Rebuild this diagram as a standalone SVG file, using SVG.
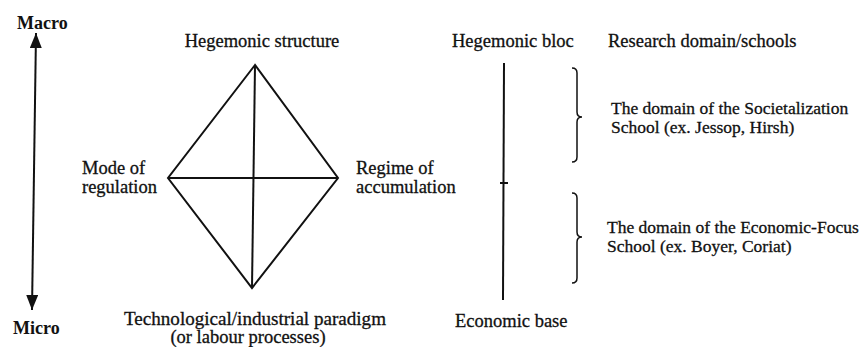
<svg xmlns="http://www.w3.org/2000/svg" width="865" height="347" viewBox="0 0 865 347">
<defs>
<marker id="ah" viewBox="0 0 15 12" refX="15" refY="6" markerWidth="15" markerHeight="12" markerUnits="userSpaceOnUse" orient="auto-start-reverse">
<path d="M0,0 L15,6 L0,12 Z" fill="#111"/>
</marker>
</defs>
<style>
text{font-family:"Liberation Serif","Times New Roman",serif;font-size:18.5px;fill:#111;stroke:#111;stroke-width:0.3}
.b{font-weight:bold;stroke-width:0;font-size:18px}
.r{font-size:17.5px}
.ln{stroke:#111;stroke-width:2;fill:none}
.br{stroke:#111;stroke-width:1.5;fill:none}
</style>
<rect width="865" height="347" fill="#fff"/>
<g id="connectors">
<line class="ln" x1="36" y1="33" x2="32" y2="310" marker-start="url(#ah)" marker-end="url(#ah)"/>
<path class="ln" d="M255,65 L168,178 L252,288 L338,178 Z"/>
<line class="ln" x1="255" y1="65" x2="252" y2="288"/>
<line class="ln" x1="168" y1="178" x2="338" y2="178"/>
<line class="ln" x1="504" y1="63" x2="503" y2="300"/>
<line class="ln" x1="500" y1="183" x2="508" y2="183"/>
<path class="br" d="M572,68 Q577,68 577,73 L577,112 Q577,117 582,117 Q577,117 577,122 L577,157 Q577,162 572,162"/>
<path class="br" d="M572,193 Q577,193 577,198 L577,232 Q577,237 582,237 Q577,237 577,242 L577,278 Q577,283 572,283"/>
</g>
<g id="macro"><text class="b" x="17" y="29">Macro</text></g>
<g id="micro"><text class="b" x="13" y="334">Micro</text></g>
<g id="hegemonic-structure"><text x="262" y="47" text-anchor="middle">Hegemonic structure</text></g>
<g id="mode-of-regulation"><text x="82" y="174">Mode of</text><text x="82" y="193">regulation</text></g>
<g id="regime-of-accumulation"><text x="356" y="174">Regime of</text><text x="356" y="193">accumulation</text></g>
<g id="tech-paradigm"><text x="255" y="325" text-anchor="middle" textLength="262" lengthAdjust="spacingAndGlyphs">Technological/industrial paradigm</text><text x="248" y="343" text-anchor="middle">(or labour processes)</text></g>
<g id="hegemonic-bloc"><text x="452" y="47">Hegemonic bloc</text></g>
<g id="research-domain"><text x="608" y="47">Research domain/schools</text></g>
<g id="societalization"><text class="r" x="611" y="114">The domain of the Societalization</text><text class="r" x="611" y="133">School (ex. Jessop, Hirsh)</text></g>
<g id="economic-focus"><text class="r" x="607" y="233">The domain of the Economic-Focus</text><text class="r" x="607" y="252">School (ex. Boyer, Coriat)</text></g>
<g id="economic-base"><text x="455" y="327">Economic base</text></g>
</svg>
